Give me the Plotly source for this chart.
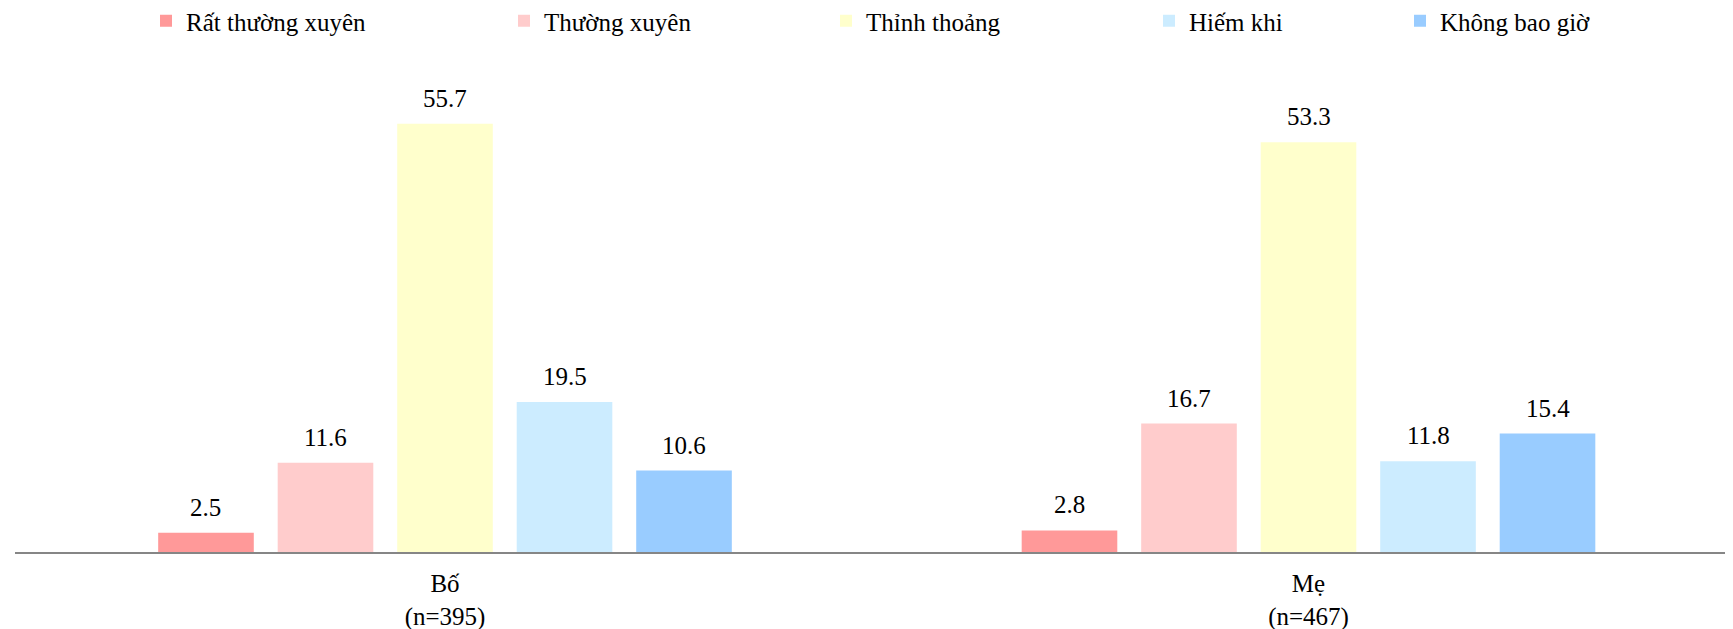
import plotly.graph_objects as go

categories = ["Bố<br>(n=395)", "Mẹ<br>(n=467)"]
series_names = ["Rất thường xuyên", "Thường xuyên", "Thỉnh thoảng", "Hiếm khi", "Không bao giờ"]
rat_thuong_xuyen = [2.5, 2.8]
thuong_xuyen = [11.6, 16.7]
thinh_thoang = [55.7, 53.3]
hiem_khi = [19.5, 11.8]
khong_bao_gio = [10.6, 15.4]
series_values = [rat_thuong_xuyen, thuong_xuyen, thinh_thoang, hiem_khi, khong_bao_gio]
colors = ["#FF9999", "#FFCCCC", "#FFFFCC", "#CCECFF", "#99CCFF"]

FONT = "'Liberation Serif', 'DejaVu Serif', 'Times New Roman', Times, serif"
FS = 25
W, H = 1725, 621
ML, MR, MT, MB = 7, 0, 52, 77
PW = W - ML - MR
PH = H - MT - MB
BARGAP, GROUPGAP = 0.308, 0.2
PX_PER_CAT = 863.5
FIRST_CENTER = 445 - 8 - ML
X0 = -FIRST_CENTER / PX_PER_CAT
X1 = X0 + PW / PX_PER_CAT
legend_px = [138, 496, 818, 1141, 1392]

fig = go.Figure()
n = len(series_names)
slot = PX_PER_CAT * (1 - BARGAP) / n
for k, (name, vals, col) in enumerate(zip(series_names, series_values, colors)):
    lg = "legend" if k == 0 else f"legend{k+1}"
    fig.add_trace(go.Bar(
        x=categories, y=vals, name=name, marker_color=col,
        marker_line_width=0, legend=lg,
    ))
    for cat, v in zip(categories, vals):
        fig.add_annotation(
            x=cat, y=v, text=f"{v:.1f}", showarrow=False,
            xanchor="center", yanchor="bottom",
            xshift=(k - (n - 1) / 2) * slot, yshift=10,
            font=dict(family=FONT, size=FS, color="black"),
        )

layout_legends = {}
for i, px in enumerate(legend_px):
    key = "legend" if i == 0 else f"legend{i+1}"
    layout_legends[key] = dict(
        x=(px - ML) / PW, xanchor="left",
        y=1 + (MT - 13) / PH, yanchor="middle",
        orientation="h", font=dict(family=FONT, size=FS, color="black"),
        bgcolor="rgba(0,0,0,0)", borderwidth=0,
    )

fig.update_layout(
    width=W, height=H,
    margin=dict(l=ML, r=MR, t=MT, b=MB, autoexpand=False),
    paper_bgcolor="white", plot_bgcolor="white",
    barmode="group", bargap=BARGAP, bargroupgap=GROUPGAP,
    showlegend=True,
    font=dict(family=FONT, size=FS, color="black"),
    xaxis=dict(showline=True, linecolor="#868686", linewidth=2,
               showgrid=False, ticks="", ticklabelstandoff=8,
               range=[X0, X1],
               tickfont=dict(family=FONT, size=FS, color="black")),
    yaxis=dict(range=[0, 64], visible=False, showgrid=False, zeroline=False),
    **layout_legends,
)

fig.write_html("out.html")
